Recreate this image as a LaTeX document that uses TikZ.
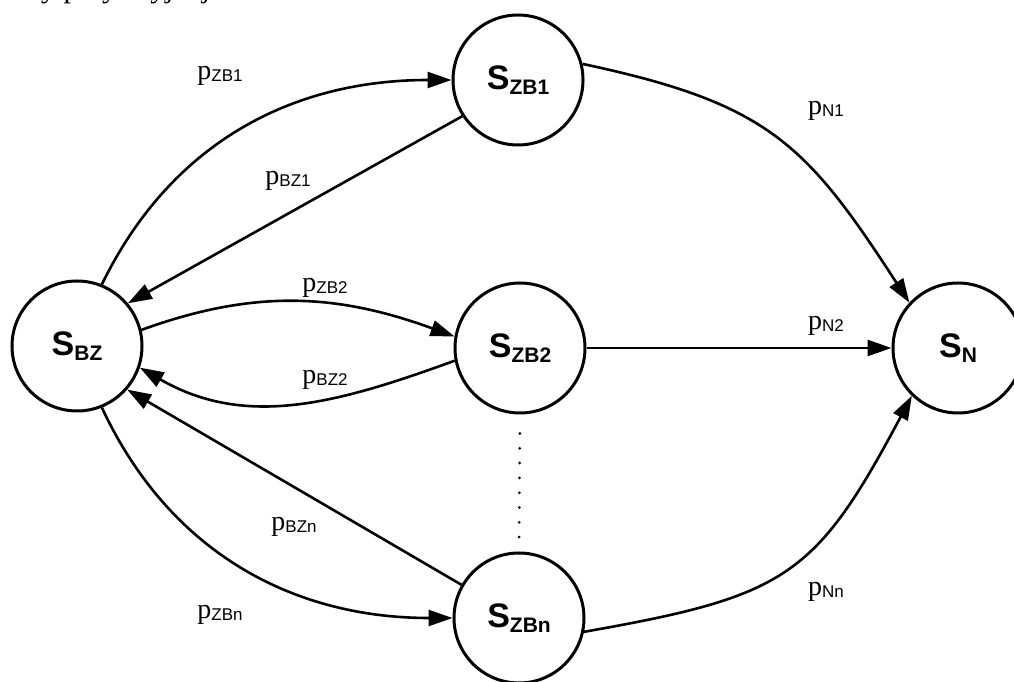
\documentclass[tikz,border=0pt]{standalone}
\usepackage{fontspec}
\setmainfont{Liberation Serif}
\setsansfont{Liberation Sans}
\usepackage{tikz}
\usetikzlibrary{arrows.meta, positioning}

\newcommand{\stsub}[1]{S\raisebox{-4.5pt}{\fontsize{21}{21}\selectfont #1}}
\newcommand{\prsub}[1]{p\raisebox{-2pt}{\sffamily\fontsize{17}{17}\selectfont #1}}

\begin{document}
\begin{tikzpicture}[x=1pt, y=1pt,
    state/.style={circle, draw, line width=3pt, minimum size=130pt, inner sep=0pt,
        font=\sffamily\bfseries\fontsize{34}{34}\selectfont},
    prob/.style={inner sep=0pt, font=\fontsize{28}{28}\selectfont},
    edge/.style={line width=2.6pt, -{Triangle[length=24pt, width=16pt]}}]
    \useasboundingbox (0,0) rectangle (1014,682);

    % cut text line from the page above
    \node[anchor=base east, inner sep=0pt, font=\fontsize{30}{30}\selectfont] (cut) at (218,684) {łony peryferyjnej.};

    % states
    \node[state] (bz)  at (77,336)  {\stsub{BZ}};
    \node[state] (zb1) at (518,602) {\stsub{ZB1}};
    \node[state] (zb2) at (520,334) {\stsub{ZB2}};
    \node[state] (zbn) at (519,64)  {\stsub{ZBn}};
    \node[state] (n)   at (958,334) {\stsub{N}};

    % 1. S_BZ <-> S_ZB1
    \draw[edge] (bz.68) to[out=64, in=180] (zb1.180);
    \draw[edge] (zb1.213) -- (bz.40);
    \node[prob] (pzb1) at (220,606) {\prsub{ZB1}};
    \node[prob] (pbz1) at (288,501) {\prsub{BZ1}};

    % 2. S_BZ <-> S_ZB2
    \draw[edge] (bz.14) to[out=20, in=160] (zb2.170);
    \draw[edge] (zb2.191) to[out=200, in=-30] (bz.-19);
    \node[prob] (pzb2) at (325,394) {\prsub{ZB2}};
    \node[prob] (pbz2) at (325,302) {\prsub{BZ2}};

    % 3. S_BZ <-> S_ZBn
    \draw[edge] (zbn.150) -- (bz.-41);
    \draw[edge] (bz.-68) to[out=-65, in=180] (zbn.180);
    \node[prob] (pbzn) at (294,155) {\prsub{BZn}};
    \node[prob] (pzbn) at (220,67)  {\prsub{ZBn}};

    % 4. into S_N
    \draw[edge] (zb1.14) to[out=-12, in=123, looseness=1.2] (n.137);
    \draw[edge] (zb2) -- (n);
    \draw[edge] (zbn.-12) to[out=10, in=-118, looseness=1.3] (n.-134);
    \node[prob] (pn1) at (826,571) {\prsub{N1}};
    \node[prob] (pn2) at (826,356) {\prsub{N2}};
    \node[prob] (pnn) at (826,90)  {\prsub{Nn}};

    % dots between S_ZB2 and S_ZBn
    \draw[line width=3pt, line cap=round, dash pattern=on 0pt off 14.8pt,
        shorten <=19pt, shorten >=12pt] (zb2.south) -- (zbn.north);
\end{tikzpicture}
\end{document}
